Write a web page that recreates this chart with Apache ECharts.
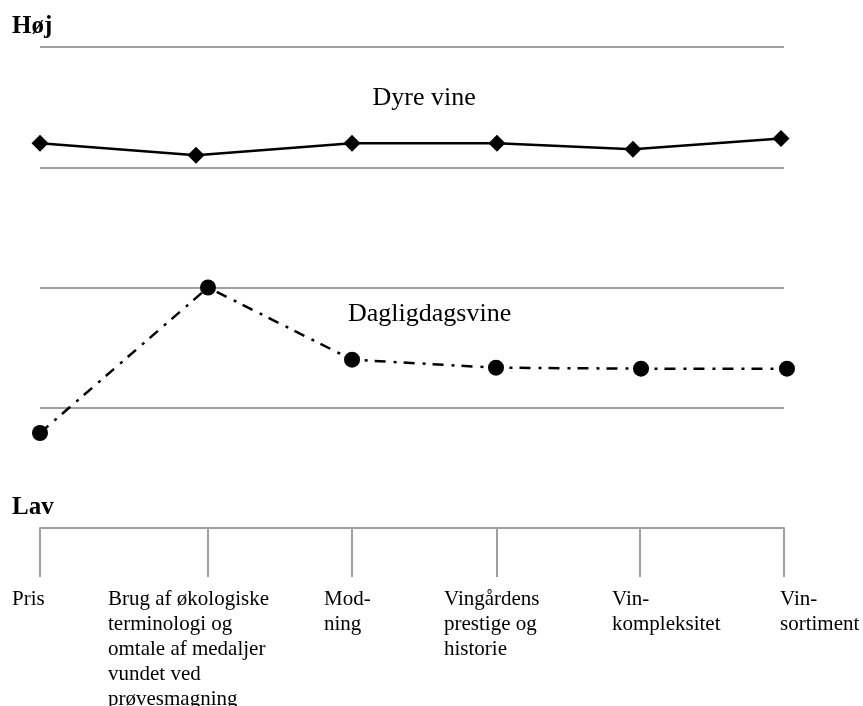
<!DOCTYPE html>
<html>
<head>
<meta charset="utf-8">
<script src="https://cdn.jsdelivr.net/npm/echarts@6/dist/echarts.min.js"></script>
<style>
  html, body { margin: 0; padding: 0; background: #fff; }
  #chart { width: 863px; height: 706px; }
</style>
</head>
<body>
<div id="chart"></div>
<script>
// Category names (bottom axis)
const categories = [
  "Pris",
  "Brug af økologiske\nterminologi og\nomtale af medaljer\nvundet ved\nprøvesmagning",
  "Mod-\nning",
  "Vingårdens\nprestige og\nhistorie",
  "Vin-\nkompleksitet",
  "Vin-\nsortiment"
];
// Tick positions of the categories along the (0-100) horizontal scale
const categoryTicks = [0, 22.58, 41.94, 61.42, 80.65, 100];

// Series: Dyre vine
const dyreX = [0, 20.97, 41.94, 61.42, 79.70, 99.6];
const dyreY = [3.2, 3.1, 3.2, 3.2, 3.15, 3.24];
// Series: Dagligdagsvine
const dagX = [0, 22.58, 41.94, 61.29, 80.78, 100.4];
const dagY = [0.79, 2.0, 1.4, 1.333, 1.325, 1.325];

const seriesNames = ["Dyre vine", "Dagligdagsvine"];
const axisTitles = ["Høj", "Lav"];

const GRAY = '#a0a0a0';
const SERIF = "'Liberation Serif', 'Times New Roman', serif";

const chart = echarts.init(document.getElementById('chart'));

const labelLefts = [12, 108, 324, 444, 612, 780];

const graphics = [
  { type: 'text', left: 12, top: 14, style: { text: axisTitles[0], font: 'bold 25px ' + SERIF, fill: '#000' } },
  { type: 'text', left: 12, top: 495, style: { text: axisTitles[1], font: 'bold 25px ' + SERIF, fill: '#000' } },
  { type: 'text', left: 372.5, top: 85, style: { text: seriesNames[0], font: '26px ' + SERIF, fill: '#000' } },
  { type: 'text', left: 348, top: 301, style: { text: seriesNames[1], font: '26px ' + SERIF, fill: '#000' } }
];
categories.forEach((c, i) => {
  graphics.push({
    type: 'text', left: labelLefts[i], top: 587,
    style: { text: c, font: '21px ' + SERIF, lineHeight: 25, fill: '#000' }
  });
});

chart.setOption({
  animation: false,
  backgroundColor: '#fff',
  grid: { left: 40, right: 79, top: 47, bottom: 178 },
  xAxis: {
    type: 'value', min: 0, max: 100,
    axisLine: { show: true, lineStyle: { color: GRAY, width: 2 } },
    axisTick: { show: true, customValues: categoryTicks, length: 49, lineStyle: { color: GRAY, width: 2 } },
    axisLabel: { show: false },
    splitLine: { show: false }
  },
  yAxis: {
    type: 'value', min: 0, max: 4, interval: 1,
    axisLine: { show: false },
    axisTick: { show: false },
    axisLabel: { show: false },
    splitLine: { show: true, lineStyle: { color: GRAY, width: 2 } }
  },
  graphic: graphics,
  series: [
    {
      name: seriesNames[0], type: 'line', clip: false,
      data: dyreX.map((x, i) => [x, dyreY[i]]),
      symbol: 'diamond', symbolSize: 17,
      lineStyle: { color: '#000', width: 2.5 },
      itemStyle: { color: '#000' }
    },
    {
      name: seriesNames[1], type: 'line', clip: false,
      data: dagX.map((x, i) => [x, dagY[i]]),
      symbol: 'circle', symbolSize: 16,
      lineStyle: { color: '#000', width: 2.5, type: [11, 8, 3, 7] },
      itemStyle: { color: '#000' }
    }
  ]
});
</script>
</body>
</html>
